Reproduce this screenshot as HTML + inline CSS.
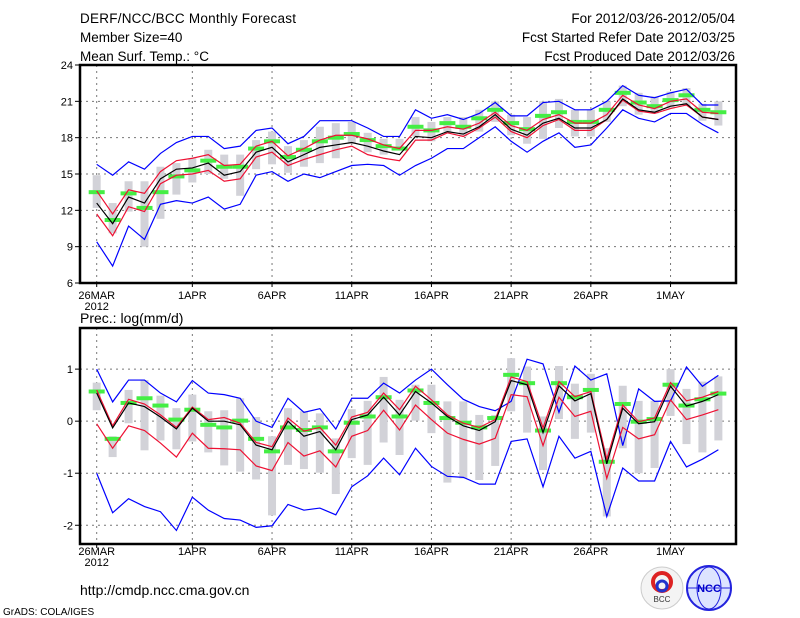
<!DOCTYPE html>
<html><head><meta charset="utf-8"><style>
body{margin:0;background:#fff}
svg{display:block;font-family:"Liberation Sans",sans-serif}
</style></head><body>
<svg id="c" width="800" height="618" viewBox="0 0 800 618">
<g font-size="13.5" fill="#000">
<text x="80" y="23" textLength="216">DERF/NCC/BCC Monthly Forecast</text>
<text x="80" y="42">Member Size=40</text>
<text x="80" y="61">Mean Surf. Temp.: °C</text>
<text x="735" y="23" text-anchor="end">For 2012/03/26-2012/05/04</text>
<text x="735" y="42" text-anchor="end">Fcst Started Refer Date 2012/03/25</text>
<text x="735" y="61" text-anchor="end">Fcst Produced Date 2012/03/26</text>
</g>
<text x="80" y="323" font-size="14">Prec.: log(mm/d)</text>
<text x="80" y="595" font-size="14">http://cmdp.ncc.cma.gov.cn</text>
<text x="3" y="615" font-size="10">GrADS: COLA/IGES</text>
<g>
<circle cx="662" cy="588" r="21" fill="#f4f4f4" stroke="#ccc"/>
<circle cx="662" cy="582" r="9" fill="none" stroke="#d22" stroke-width="4"/>
<circle cx="662" cy="586" r="5" fill="none" stroke="#23c" stroke-width="3"/>
<text x="662" y="602" font-size="8" text-anchor="middle" fill="#333">BCC</text>
</g>
<g>
<circle cx="709" cy="588" r="22" fill="#dde4ff" stroke="#22d" stroke-width="2"/>
<ellipse cx="709" cy="588" rx="12" ry="21" fill="none" stroke="#22d"/>
<line x1="687" y1="588" x2="731" y2="588" stroke="#22d"/>
<text x="709" y="592" font-size="11" font-weight="bold" text-anchor="middle" fill="#00c">NCC</text>
</g>
<g id="top"></g>
<g id="bot"></g>
</svg>
<script>
const days = ["26MAR","1APR","6APR","11APR","16APR","21APR","26APR","1MAY"];
const dayIdx = [0,6,11,16,21,26,31,36];
// Temperature series (°C), 40 days
const tBlueHi=[15.8,14.9,16.0,15.4,16.7,17.6,18.1,18.1,17.1,17.3,18.6,18.8,17.5,18.1,19.4,19.4,19.4,18.8,18.1,18.1,20.3,19.6,19.9,19.5,20.0,20.9,19.8,19.8,20.9,21.0,20.3,20.3,21.0,22.3,21.5,21.3,21.7,22.0,20.7,20.7];
const tBlueLo=[9.4,7.4,10.7,9.6,12.5,12.8,12.6,13.1,12.1,12.5,14.9,15.2,14.4,15.0,14.7,15.2,15.7,15.8,15.7,14.9,15.7,16.3,17.1,17.1,18.0,18.9,17.7,16.8,17.7,18.4,17.2,17.4,18.8,20.3,19.6,19.3,20.0,20.0,19.1,18.4];
const tMean=[12.6,10.9,13.1,12.6,14.6,15.4,15.5,15.9,14.9,15.2,16.8,17.2,16.0,16.6,17.2,17.4,17.6,17.3,16.9,16.6,18.1,18.0,18.5,18.3,18.9,19.9,18.7,18.2,19.2,19.6,18.8,18.8,19.5,21.2,20.3,20.1,20.6,20.8,19.7,19.5];
const tRedHi=[13.6,11.7,13.7,13.4,15.2,16.1,16.3,16.6,15.7,15.8,17.3,17.7,16.5,17.1,17.8,18.2,18.2,17.9,17.4,17.1,18.6,18.6,18.9,18.7,19.2,20.1,19.0,18.6,19.5,19.9,19.2,19.2,19.9,21.5,20.7,20.4,21.0,21.2,20.1,20.0];
const tRedLo=[11.7,9.9,12.3,11.9,14.2,14.9,15.0,15.3,14.4,14.6,16.4,16.8,15.7,16.2,16.6,17.0,17.3,16.6,16.3,16.1,17.8,17.8,18.4,18.1,18.8,19.7,18.5,18.0,19.0,19.5,18.6,18.6,19.5,21.1,20.2,20.0,20.4,20.7,19.7,19.5];
const tGreen=[13.5,11.2,13.4,12.2,13.5,14.8,15.3,16.1,15.6,15.6,17.1,17.7,16.4,17.0,17.7,18.0,18.3,17.8,17.3,17.1,18.9,18.6,19.2,18.9,19.6,20.3,19.2,18.7,19.8,20.1,19.3,19.3,20.3,21.7,20.9,20.6,21.1,21.5,20.3,20.1];
const tBarHi=[14.9,12.6,14.4,14.4,15.6,15.9,16.3,17.0,16.6,16.6,17.8,18.5,17.3,17.8,18.9,19.2,19.3,18.4,17.9,17.9,19.7,19.3,19.7,19.7,20.3,21.0,19.9,19.7,21.0,21.2,20.3,20.3,21.0,22.3,21.7,21.4,21.8,22.1,20.8,21.0];
const tBarLo=[12.2,10.1,11.9,9.0,11.3,13.3,14.3,15.0,14.6,13.2,15.4,15.8,15.1,15.6,15.9,16.3,17.5,16.8,16.6,17.0,18.1,17.7,18.5,18.1,18.5,19.3,18.2,17.5,17.9,18.8,18.1,18.1,19.3,20.6,19.9,20.0,20.4,20.6,19.4,19.0];
// Precipitation series log(mm/d)
const pBlueHi=[1.0,0.37,0.79,0.79,0.54,0.37,0.78,0.54,0.51,0.44,0.0,-0.12,0.44,0.17,0.24,-0.15,0.44,0.44,0.73,0.54,0.79,1.0,0.7,0.42,0.28,0.2,0.38,1.19,1.1,0.17,1.06,0.79,0.91,-0.47,0.62,0.38,0.39,1.04,0.67,0.88];
const pBlueLo=[-1.0,-1.76,-1.49,-1.64,-1.74,-2.1,-1.46,-1.71,-1.87,-1.9,-2.04,-2.01,-1.6,-1.71,-1.67,-1.8,-1.26,-1.05,-0.71,-1.03,-0.52,-0.87,-1.06,-1.08,-1.21,-1.21,-0.39,-0.34,-1.26,-0.29,-0.71,-0.58,-1.83,-0.9,-1.15,-1.15,-0.39,-0.88,-0.73,-0.55];
const pMean=[0.54,-0.13,0.35,0.28,0.08,-0.15,0.25,0.0,0.0,-0.07,-0.46,-0.55,0.0,-0.29,-0.2,-0.55,0.03,0.12,0.46,0.12,0.57,0.35,0.09,-0.09,-0.18,-0.01,0.78,0.7,-0.22,0.68,0.39,0.53,-0.82,0.25,-0.05,-0.01,0.67,0.29,0.38,0.51];
const pRedHi=[0.6,-0.09,0.42,0.33,0.12,-0.12,0.27,0.03,0.07,-0.04,-0.41,-0.49,0.06,-0.19,-0.12,-0.46,0.08,0.17,0.54,0.22,0.67,0.41,0.12,-0.04,-0.12,0.03,0.85,0.76,-0.13,0.76,0.47,0.57,-0.73,0.31,-0.01,0.06,0.74,0.39,0.46,0.57];
const pRedLo=[-0.05,-0.52,-0.09,-0.18,-0.42,-0.69,-0.23,-0.52,-0.53,-0.55,-0.86,-0.95,-0.41,-0.67,-0.57,-0.88,-0.29,-0.18,0.21,-0.17,0.31,0.03,-0.23,-0.35,-0.44,-0.33,0.51,0.47,-0.47,0.46,0.09,0.19,-1.1,-0.12,-0.34,-0.26,0.41,0.03,0.12,0.22];
const pGreen=[0.57,-0.34,0.35,0.44,0.3,0.03,0.22,-0.07,-0.12,0.01,-0.34,-0.58,-0.12,-0.17,-0.12,-0.58,-0.03,0.09,0.46,0.09,0.59,0.35,0.06,-0.03,-0.12,0.06,0.89,0.73,-0.18,0.73,0.46,0.6,-0.78,0.33,-0.01,0.04,0.7,0.3,0.42,0.53];
const pBarHi=[0.74,-0.29,0.6,0.79,0.49,0.25,0.51,0.19,0.21,0.44,0.08,-0.29,0.25,0.19,0.15,-0.33,0.23,0.39,0.85,0.41,0.7,0.7,0.38,0.38,0.12,0.12,1.21,1.05,0.09,1.06,0.72,0.91,-0.52,0.68,0.39,0.39,1.0,0.62,0.76,0.86];
const pBarLo=[0.21,-0.69,-0.04,-0.56,-0.37,-0.54,-0.39,-0.6,-0.85,-0.97,-1.12,-1.81,-0.84,-0.92,-0.99,-1.4,-0.71,-0.84,-0.41,-0.65,0.01,-0.23,-1.18,-1.1,-1.13,-0.86,0.19,-0.22,-0.94,0.04,-0.34,-0.22,-1.83,-0.52,-1.0,-0.9,0.1,-0.44,-0.6,-0.37];
const tTicks=[6,9,12,15,18,21,24];
const pTicks=[-2,-1,0,1];

const NS="http://www.w3.org/2000/svg";
const X0=80,X1=736;
function xd(i){return 96.7+15.94*i;}
function mk(parent,tag,attrs){const e=document.createElementNS(NS,tag);for(const k in attrs)e.setAttribute(k,attrs[k]);parent.appendChild(e);return e;}

function panel(g,top,bot,vmin,vmax,ticks,yTickFmt,labY,S){
  const y=v=>bot-(v-vmin)/(vmax-vmin)*(bot-top);
  ticks.forEach(t=>{
    const l=mk(g,'line',{x1:X0,x2:X1,y1:y(t),y2:y(t),stroke:'#777','stroke-dasharray':'2,4','stroke-width':1});
    
    
    const tk=mk(g,'line',{x1:X0-5,x2:X0,y1:y(t),y2:y(t),stroke:'#000'});
    
    
    const tx=mk(g,'text',{x:X0-7,y:y(t)+4,'font-size':11,'text-anchor':'end'});
    tx.textContent=yTickFmt(t);
    
    
  });
  dayIdx.forEach((d,k)=>{
    const x=xd(d);
    const l=mk(g,'line',{x1:x,x2:x,y1:top,y2:bot,stroke:'#777','stroke-dasharray':'2,4'});
    
    
    const tk=mk(g,'line',{x1:x,x2:x,y1:bot,y2:bot+4,stroke:'#000'});
    
    
    const tx=mk(g,'text',{x:x,y:labY,'font-size':11,'text-anchor':'middle'});
    tx.textContent=days[k];
    
    
  });
  const yr=mk(g,'text',{x:xd(0),y:labY+11,'font-size':11,'text-anchor':'middle'});
  yr.textContent='2012';
  
  
  S.barHi.forEach((h,i)=>{
    const r=mk(g,'rect',{x:xd(i)-4,y:y(h),width:8,height:Math.max(1,y(S.barLo[i])-y(h)),fill:'#d2d2d8'});
    
    
  });
  S.green.forEach((v,i)=>{
    const r=mk(g,'rect',{x:xd(i)-8,y:y(v)-2,width:16,height:4,fill:'#44ee44'});
    
    
  });
  const line=(arr,col,name)=>{
    const p=mk(g,'polyline',{points:arr.map((v,i)=>xd(i)+','+y(v)).join(' '),fill:'none',stroke:col,'stroke-width':1.2});
    
    
  };
  line(S.blueHi,'#0000ff','max-line');
  line(S.blueLo,'#0000ff','min-line');
  line(S.redHi,'#ee1133','upper-std-line');
  line(S.redLo,'#ee1133','lower-std-line');
  line(S.mean,'#000','ensemble-mean-line');
  const b=mk(g,'rect',{x:X0,y:top,width:X1-X0,height:bot-top,fill:'none',stroke:'#000','stroke-width':2.5});
  
  
}
panel(document.getElementById('top'),65,283,6,24,tTicks,t=>String(t),299,
  {blueHi:tBlueHi,blueLo:tBlueLo,mean:tMean,redHi:tRedHi,redLo:tRedLo,green:tGreen,barHi:tBarHi,barLo:tBarLo});
panel(document.getElementById('bot'),328,544,-2.36,1.79,pTicks,t=>String(t),555,
  {blueHi:pBlueHi,blueLo:pBlueLo,mean:pMean,redHi:pRedHi,redLo:pRedLo,green:pGreen,barHi:pBarHi,barLo:pBarLo});
</script>
</body></html>
